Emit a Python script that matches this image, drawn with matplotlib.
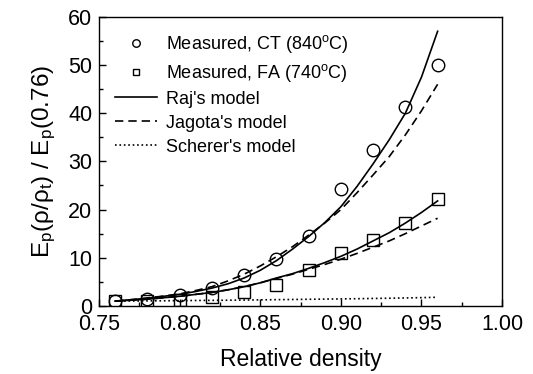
import matplotlib
matplotlib.use("Agg")
import matplotlib.pyplot as plt
from matplotlib.ticker import MultipleLocator, FormatStrFormatter

plt.rcParams['font.family'] = ['Liberation Sans', 'DejaVu Sans']
plt.rcParams['mathtext.fontset'] = 'custom'
plt.rcParams['mathtext.rm'] = 'Liberation Sans'
plt.rcParams['mathtext.it'] = 'Liberation Sans:italic'

# Measured data
dens_meas = [0.76, 0.78, 0.80, 0.82, 0.84, 0.86, 0.88, 0.90, 0.92, 0.94, 0.96]
ct_meas = [1.0, 1.5, 2.3, 3.7, 6.4, 9.8, 14.5, 24.3, 32.3, 41.2, 50.1]
fa_meas = [1.0, 1.0, 1.2, 1.9, 2.8, 4.4, 7.5, 10.9, 13.6, 17.3, 22.1]

# Model curves
dens_model = [0.76, 0.77, 0.78, 0.79, 0.80, 0.81, 0.82, 0.83, 0.84, 0.85, 0.86,
              0.87, 0.88, 0.89, 0.90, 0.91, 0.92, 0.93, 0.94, 0.95, 0.96]
raj_ct = [1.0, 1.3, 1.6, 2.0, 2.4, 3.0, 3.7, 4.6, 5.8, 7.4, 9.4,
          11.8, 14.4, 17.3, 20.6, 24.8, 29.5, 34.5, 40.0, 47.5, 57.0]
jag_ct = [1.0, 1.3, 1.65, 2.05, 2.5, 3.2, 4.0, 5.2, 6.6, 8.3, 10.2,
          12.3, 14.7, 17.2, 20.0, 23.5, 27.2, 31.0, 35.5, 40.5, 46.0]
raj_fa = [1.0, 1.2, 1.4, 1.7, 2.0, 2.4, 2.8, 3.35, 4.0, 4.8, 5.8,
          6.7, 7.8, 9.0, 10.3, 11.8, 13.5, 15.2, 17.2, 19.4, 21.8]
jag_fa = [1.0, 1.2, 1.4, 1.7, 2.0, 2.4, 2.8, 3.35, 4.0, 4.8, 5.7,
          6.6, 7.6, 8.6, 9.7, 10.9, 12.2, 13.5, 15.0, 16.6, 18.2]
scherer = [1.0, 1.02, 1.05, 1.07, 1.1, 1.13, 1.16, 1.19, 1.22, 1.26, 1.3,
           1.34, 1.38, 1.42, 1.46, 1.5, 1.55, 1.6, 1.66, 1.72, 1.8]

fig = plt.figure(figsize=(5.33, 3.74), dpi=100)
ax = fig.add_axes([0.186, 0.182, 0.756, 0.773])

ax.plot(dens_meas, ct_meas, 'o', mfc='none', mec='black', ms=9, mew=1.0,
        label='Measured, CT (840$^{\\rm o}$C)')
ax.plot(dens_meas, fa_meas, 's', mfc='none', mec='black', ms=8, mew=1.0,
        label='Measured, FA (740$^{\\rm o}$C)')
ax.plot(dens_model, raj_ct, '-', color='black', lw=1.2, label="Raj's model")
ax.plot(dens_model, jag_ct, '--', color='black', lw=1.2, dashes=(5, 3), label="Jagota's model")
ax.plot(dens_model, raj_fa, '-', color='black', lw=1.2)
ax.plot(dens_model, jag_fa, '--', color='black', lw=1.2, dashes=(5, 3))
ax.plot(dens_model, scherer, ':', color='black', lw=1.2, label="Scherer's model")

ax.set_xlim(0.75, 1.00)
ax.set_ylim(0, 60)
ax.xaxis.set_major_locator(MultipleLocator(0.05))
ax.xaxis.set_minor_locator(MultipleLocator(0.025))
ax.yaxis.set_major_locator(MultipleLocator(10))
ax.yaxis.set_minor_locator(MultipleLocator(5))
ax.xaxis.set_major_formatter(FormatStrFormatter('%.2f'))
ax.tick_params(which='major', direction='in', length=5, width=1, labelsize=15.5)
ax.tick_params(axis='x', which='major', pad=6)
ax.tick_params(axis='y', which='major', pad=5)
ax.tick_params(which='minor', direction='in', length=3, width=1)
for s in ax.spines.values():
    s.set_linewidth(1.0)

ax.set_xlabel('Relative density', fontsize=16.5, labelpad=9)
ax.set_ylabel('E$_{\\rm p}$(ρ/ρ$_{\\rm t}$) / E$_{\\rm p}$(0.76)', fontsize=17.5, labelpad=7)

ax.legend(loc='upper left', frameon=False, fontsize=13, markerscale=0.6,
          handlelength=2.3, handletextpad=0.5, labelspacing=0.38,
          bbox_to_anchor=(0.0, 1.0))

fig.savefig('out.png', dpi=100)
